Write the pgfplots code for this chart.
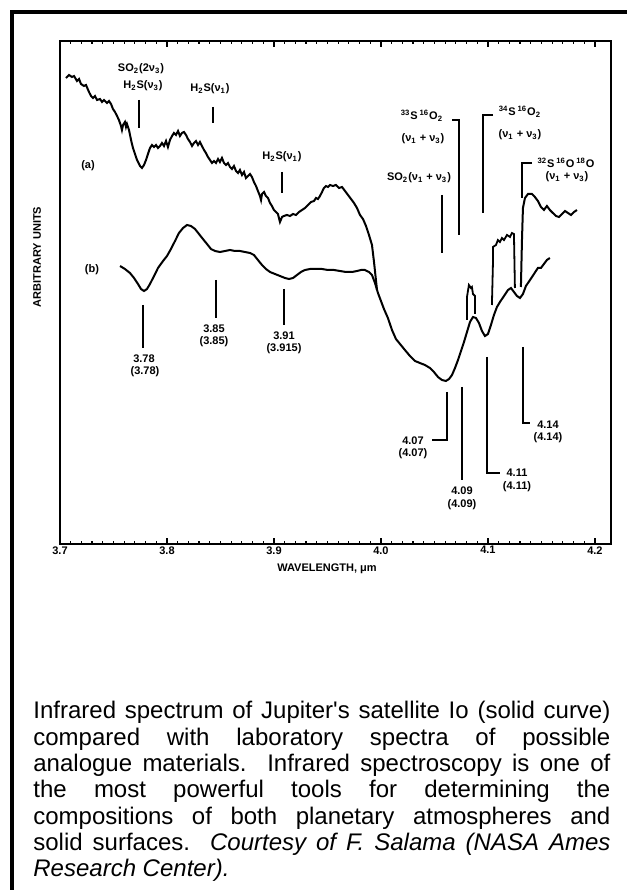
\documentclass[border=0pt]{standalone}
\usepackage{pgfplots}
\pgfplotsset{compat=1.18}
\usepackage{fontspec}
\setmainfont{Liberation Sans}
\newfontfamily\capfam{Liberation Sans}[Ligatures=TeXOff]
\newcommand\lab{\fontsize{5.5}{6.5}\selectfont\bfseries}
\newcommand\capfont{\capfam\fontsize{12}{13.25}\selectfont}
\begin{document}
\begin{tikzpicture}
\path[use as bounding box] (0,0) rectangle (313.5pt,445pt);
\begin{axis}[
  at={(30pt,173pt)}, anchor=south west,
  scale only axis, width=275.5pt, height=251.5pt,
  xmin=3.7, xmax=4.215, ymin=0, ymax=50.3,
  axis line style={line width=1pt},
  xtick={3.7,3.8,3.9,4.0,4.1,4.2},
  xticklabels={3.7,3.8,3.9,4.0,4.1,4.2},
  minor x tick num=9,
  tick align=inside,
  major tick length=3pt, minor tick length=1.6pt,
  tick style={line width=0.6pt, black},
  ytick=\empty,
  xticklabel style={font=\lab, inner sep=1pt},
]
% curve (a)
\addplot[black, line width=1pt, no markers] table {
3.7056 46.6
3.7084 46.9
3.7112 46.7
3.7131 46.8
3.7159 46.3
3.7178 46.5
3.7196 46.0
3.7224 45.8
3.7243 45.9
3.7271 45.2
3.7290 44.8
3.7308 44.6
3.7327 44.8
3.7346 44.4
3.7374 44.5
3.7393 44.2
3.7411 44.4
3.7439 44.1
3.7458 44.3
3.7477 44.0
3.7495 43.5
3.7514 43.2
3.7533 42.8
3.7551 42.4
3.7570 41.8
3.7579 41.4
3.7589 41.9
3.7607 42.2
3.7617 41.7
3.7626 42.0
3.7645 41.4
3.7664 40.4
3.7682 39.6
3.7701 39.0
3.7720 38.4
3.7748 37.8
3.7766 37.6
3.7785 37.9
3.7804 38.4
3.7822 39.0
3.7841 39.6
3.7860 39.9
3.7879 39.7
3.7897 39.9
3.7916 39.6
3.7935 39.8
3.7953 40.1
3.7972 39.8
3.7991 40.3
3.8009 39.7
3.8028 40.4
3.8047 40.8
3.8065 41.1
3.8084 40.9
3.8103 41.3
3.8121 40.8
3.8140 41.1
3.8159 41.2
3.8178 40.9
3.8196 40.5
3.8215 40.2
3.8234 39.8
3.8252 40.1
3.8271 40.3
3.8290 39.9
3.8308 40.2
3.8327 39.8
3.8346 39.4
3.8364 39.1
3.8383 38.7
3.8402 38.4
3.8421 38.1
3.8439 38.3
3.8458 38.1
3.8477 38.5
3.8495 38.2
3.8514 38.6
3.8533 38.1
3.8551 37.9
3.8570 38.1
3.8589 37.7
3.8607 37.5
3.8626 37.8
3.8645 37.3
3.8664 37.1
3.8682 37.4
3.8701 36.9
3.8720 37.2
3.8738 36.6
3.8757 36.8
3.8776 37.0
3.8794 36.7
3.8813 36.2
3.8832 35.8
3.8850 35.3
3.8869 34.8
3.8879 34.4
3.8888 35.0
3.8907 35.2
3.8925 34.8
3.8944 34.6
3.8963 34.1
3.8981 33.8
3.9000 33.4
3.9019 33.2
3.9037 33.0
3.9056 32.2
3.9075 32.7
3.9093 32.8
3.9121 32.9
3.9150 32.8
3.9178 33.0
3.9206 32.9
3.9234 33.2
3.9262 33.4
3.9290 33.6
3.9318 33.9
3.9346 34.2
3.9374 34.3
3.9393 34.6
3.9411 34.5
3.9430 34.8
3.9449 35.2
3.9467 35.6
3.9486 35.8
3.9505 35.7
3.9523 35.9
3.9551 35.8
3.9579 35.9
3.9607 35.6
3.9636 35.7
3.9664 35.3
3.9692 34.9
3.9720 34.5
3.9748 34.1
3.9776 33.6
3.9804 32.9
3.9832 32.5
3.9860 31.8
3.9888 30.9
3.9916 29.9
3.9935 28.2
3.9953 26.4
3.9963 25.4
};
% (a) narrow band near 4.09
\addplot[black, line width=0.9pt, no markers] table {
4.0804 22.4
4.0804 24.7
4.0822 25.9
4.0841 25.6
4.0850 25.7
4.0860 25.0
4.0879 24.8
4.0879 23.0
};
% (a) band near 4.11
\addplot[black, line width=0.9pt, no markers] table {
4.1037 23.9
4.1047 28.2
4.1047 29.7
4.1075 29.9
4.1093 30.4
4.1112 30.2
4.1131 30.6
4.1150 30.4
4.1178 30.9
4.1206 30.7
4.1224 31.1
4.1243 31.0
4.1252 25.6
};
% (a) end segment
\addplot[black, line width=1pt, no markers] table {
4.1308 25.7
4.1318 30.4
4.1327 33.6
4.1346 34.6
4.1374 35.0
4.1411 35.0
4.1439 34.7
4.1467 34.3
4.1495 33.7
4.1523 33.4
4.1551 33.8
4.1579 33.4
4.1607 33.1
4.1636 32.8
4.1664 32.7
4.1692 33.0
4.1720 33.3
4.1748 33.1
4.1776 32.9
4.1804 33.2
4.1832 33.4
};
% curve (b)
\addplot[black, line width=1pt, no markers] table {
3.7561 27.8
3.7607 27.5
3.7654 27.1
3.7692 26.6
3.7729 26.0
3.7757 25.5
3.7785 25.3
3.7813 25.5
3.7841 26.0
3.7879 26.8
3.7916 27.6
3.7963 28.3
3.8000 28.8
3.8037 29.5
3.8075 30.3
3.8112 31.1
3.8150 31.6
3.8187 31.9
3.8224 31.8
3.8262 31.5
3.8299 31.0
3.8336 30.5
3.8374 30.0
3.8411 29.5
3.8449 29.3
3.8495 29.2
3.8542 29.3
3.8589 29.4
3.8636 29.3
3.8682 29.3
3.8729 29.2
3.8776 29.1
3.8813 28.9
3.8850 28.4
3.8888 27.9
3.8925 27.5
3.8963 27.2
3.9009 27.0
3.9056 26.8
3.9103 26.6
3.9140 26.5
3.9178 26.6
3.9215 26.9
3.9252 27.2
3.9290 27.4
3.9336 27.5
3.9393 27.5
3.9449 27.5
3.9505 27.4
3.9561 27.4
3.9617 27.3
3.9673 27.2
3.9729 27.2
3.9776 27.3
3.9813 27.4
3.9850 27.4
3.9888 27.2
3.9916 26.9
3.9944 26.1
3.9972 25.1
4.0000 24.3
4.0028 23.5
4.0065 22.6
4.0103 21.4
4.0140 20.5
4.0178 20.0
4.0224 19.4
4.0271 18.8
4.0318 18.3
4.0364 18.1
4.0411 17.9
4.0458 17.6
4.0495 17.2
4.0533 16.7
4.0570 16.4
4.0607 16.3
4.0636 16.5
4.0664 16.9
4.0692 17.6
4.0720 18.4
4.0748 19.3
4.0776 20.2
4.0804 21.2
4.0832 22.2
4.0860 22.7
4.0888 22.6
4.0916 22.1
4.0944 21.3
4.0972 20.8
4.1000 21.0
4.1028 21.9
4.1056 22.9
4.1084 23.7
4.1112 24.2
4.1150 24.8
4.1187 25.4
4.1215 25.6
4.1243 25.2
4.1271 24.8
4.1299 24.6
4.1327 25.0
4.1355 25.8
4.1393 26.4
4.1430 27.0
4.1467 27.6
4.1495 27.6
4.1523 28.0
4.1551 28.4
4.1579 28.6
};
\end{axis}
\begin{scope}[x=0.5pt,y=-0.5pt,shift={(0,445pt)}]
% frame
\draw[line width=2.25pt] (12,890) -- (12,12) -- (627,12);
% axis titles
\node[font=\lab] at (327,569) {WAVELENGTH, μm};
\node[font=\lab, rotate=90] at (37,257) {ARBITRARY UNITS};
% upper annotations
\node[font=\lab] at (141,69) {SO\textsubscript{2}(2ν\textsubscript{3})};
\node[font=\lab] at (143,86) {H\textsubscript{2}S(ν\textsubscript{3})};
\draw[line width=0.7pt] (139,100) -- (139,128);
\node[font=\lab] at (210,89) {H\textsubscript{2}S(ν\textsubscript{1})};
\draw[line width=0.7pt] (213,107) -- (213,123);
\node[font=\lab] at (282,157) {H\textsubscript{2}S(ν\textsubscript{1})};
\draw[line width=0.7pt] (282,172) -- (282,193);
\node[font=\lab] at (88,166) {(a)};
\node[font=\lab] at (92,270) {(b)};
\node[font=\lab] at (422,116) {\textsuperscript{33}S\,\textsuperscript{16}O\textsubscript{2}};
\node[font=\lab] at (423,139) {(ν\textsubscript{1} + ν\textsubscript{3})};
\draw[line width=0.7pt] (452,120) -- (459,120) -- (459,235);
\node[font=\lab] at (419,178) {SO\textsubscript{2}(ν\textsubscript{1} + ν\textsubscript{3})};
\draw[line width=0.7pt] (442,195) -- (442,253);
\node[font=\lab] at (520,112) {\textsuperscript{34}S\,\textsuperscript{16}O\textsubscript{2}};
\node[font=\lab] at (520,135) {(ν\textsubscript{1} + ν\textsubscript{3})};
\draw[line width=0.7pt] (493,115) -- (483,115) -- (483,213);
\node[font=\lab] at (566,163) {\textsuperscript{32}S\,\textsuperscript{16}O\,\textsuperscript{18}O};
\node[font=\lab] at (567,177) {(ν\textsubscript{1} + ν\textsubscript{3})};
\draw[line width=0.7pt] (532,163) -- (522,163) -- (522,198);
% lower annotations
\draw[line width=0.8pt] (143,305) -- (143,348);
\node[font=\lab] at (144,359) {3.78};
\node[font=\lab] at (145,372) {(3.78)};
\draw[line width=0.8pt] (216,280) -- (216,318);
\node[font=\lab] at (214,329) {3.85};
\node[font=\lab] at (214,342) {(3.85)};
\draw[line width=0.7pt] (284,289) -- (284,325);
\node[font=\lab] at (284,336) {3.91};
\node[font=\lab] at (284,349) {(3.915)};
\draw[line width=0.6pt] (447,392) -- (447,440) -- (432,440);
\node[font=\lab] at (413,441) {4.07};
\node[font=\lab] at (413,454) {(4.07)};
\draw[line width=0.6pt] (462,387) -- (462,480);
\node[font=\lab] at (462,491) {4.09};
\node[font=\lab] at (462,505) {(4.09)};
\draw[line width=0.6pt] (487,357) -- (487,473) -- (500,473);
\node[font=\lab] at (517,473) {4.11};
\node[font=\lab] at (517,487) {(4.11)};
\draw[line width=0.6pt] (523,347) -- (523,423) -- (530,423);
\node[font=\lab] at (548,425) {4.14};
\node[font=\lab] at (548,438) {(4.14)};
% caption, one node per line
\begin{scope}[every node/.style={anchor=base west, inner sep=0pt, font=\capfont}]
\node at (33,719.0) {\makebox[288.5pt][s]{Infrared spectrum of Jupiter's satellite Io (solid curve)}};
\node at (33,745.3) {\makebox[288.5pt][s]{compared with laboratory spectra of possible}};
\node at (33,771.6) {\makebox[288.5pt][s]{analogue materials.\ \ Infrared spectroscopy is one of}};
\node at (33,797.9) {\makebox[288.5pt][s]{the most powerful tools for determining the}};
\node at (33,824.2) {\makebox[288.5pt][s]{compositions of both planetary atmospheres and}};
\node at (33,850.5) {\makebox[288.5pt][s]{solid surfaces.\ \ \textit{Courtesy of F. Salama (NASA Ames}}};
\node at (33,876.8) {\textit{Research Center).}};
\end{scope}
\end{scope}
\end{tikzpicture}
\end{document}
